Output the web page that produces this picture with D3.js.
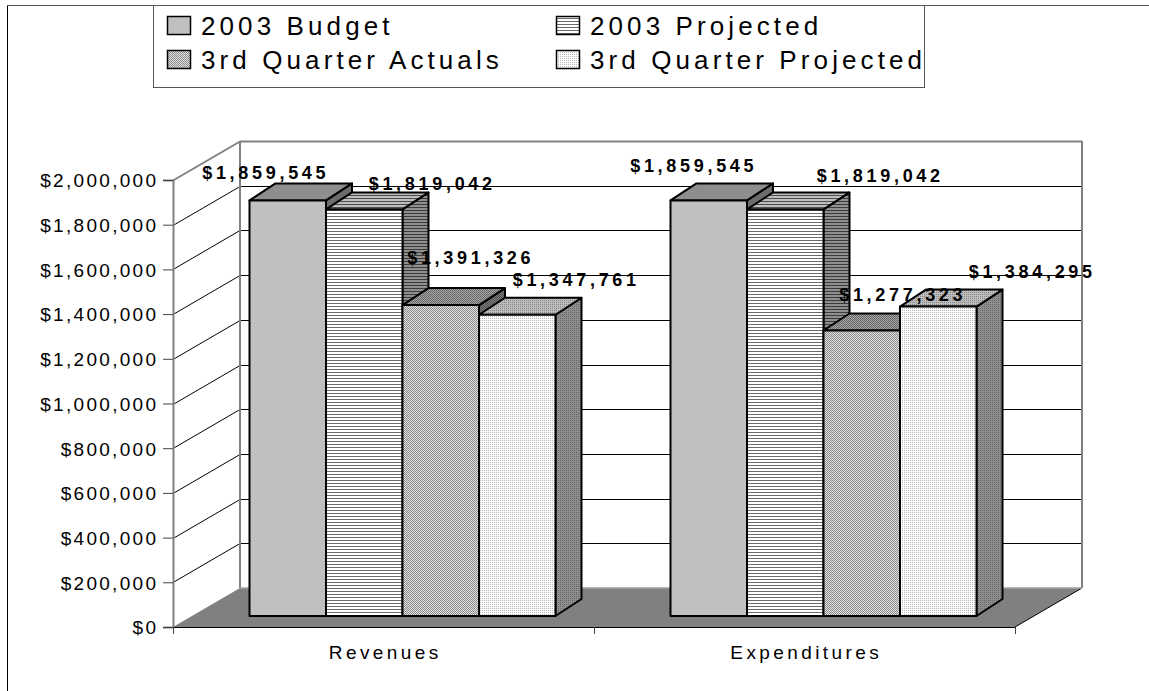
<!DOCTYPE html>
<meta charset="utf-8">
<style>
body { margin: 0; background: #fff; }
text { font-family: "Liberation Sans", Arial, sans-serif; fill: #000; }
.tick text { font-size: 19px; letter-spacing: 2.3px; }
.cat { font-size: 19px; letter-spacing: 3.4px; text-anchor: middle; }
.lbl { font-size: 18px; font-weight: bold; letter-spacing: 3.7px; text-anchor: middle; }
.leg { font-size: 26px; letter-spacing: 4.1px; }
</style>
<body>
<script src="https://d3js.org/d3.v7.min.js"></script>
<script>

// data
var categories = ["Revenues", "Expenditures"];
var series = ["2003 Budget", "2003 Projected", "3rd Quarter Actuals", "3rd Quarter Projected"];
var revenues = [1859545, 1819042, 1391326, 1347761];
var expenditures = [1859545, 1819042, 1277323, 1384295];
var yTicks = [0, 200000, 400000, 600000, 800000, 1000000, 1200000, 1400000, 1600000, 1800000, 2000000];

// label nudges (Excel places the 3d labels a bit loosely)
var nudgeX = [[-24, 66, 28, 57], [-17, 93, 39, 92]];
var nudgeY = [[-28, -26, -48, -35], [-35, -34, -36, -35]];

var values = [revenues, expenditures];

var W = 1149, H = 691;
var svg = d3.select("body").append("svg").attr("width", W).attr("height", H);
var defs = svg.append("defs");

// plot geometry
var plotLeft = 173, plotRight = 1015, plotBase = 627, plotTop = 180;
var wallDX = 67, wallDY = 39;        // depth of the floor / side wall
var barOffX = 19, barOffY = 11;      // bar front sits this far into the floor
var barDX = 26, barDY = 17;          // bar depth

var y = d3.scaleLinear().domain([0, 2000000]).range([plotBase, plotTop]);
var x0 = d3.scaleBand().domain(categories).range([plotLeft, plotRight]);
var groupW = 306;
var x1 = d3.scaleBand().domain(series).range([0, groupW]);

// patterns: kind, fg, bg
var fills = [
  {kind: "solid", fg: "#c0c0c0", bg: "#c0c0c0"},
  {kind: "hlines", fg: "#6a6a6a", bg: "#ffffff"},
  {kind: "dots50", fg: "#8a8a8a", bg: "#e2e2e2"},
  {kind: "dots25", fg: "#b4b4b4", bg: "#ffffff"}
];
var shade = {front: 1, top: 0.74, side: 0.56};

function dark(c, k) {
  var r = d3.rgb(c);
  return d3.rgb(r.r * k, r.g * k, r.b * k).formatHex();
}

function makePattern(i, face) {
  var f = fills[i], k = shade[face];
  var id = "p" + i + face;
  var fg = dark(f.fg, k), bg = dark(f.bg, k);
  var p;
  if (f.kind == "solid") {
    p = defs.append("pattern").attr("id", id).attr("patternUnits", "userSpaceOnUse")
      .attr("width", 2).attr("height", 2);
    p.append("rect").attr("width", 2).attr("height", 2).attr("fill", bg);
  } else if (f.kind == "hlines") {
    p = defs.append("pattern").attr("id", id).attr("patternUnits", "userSpaceOnUse")
      .attr("width", 3).attr("height", 3);
    p.append("rect").attr("width", 3).attr("height", 3).attr("fill", bg);
    p.append("rect").attr("width", 3).attr("height", 1).attr("fill", fg);
  } else if (f.kind == "dots50") {
    p = defs.append("pattern").attr("id", id).attr("patternUnits", "userSpaceOnUse")
      .attr("width", 2).attr("height", 2);
    p.append("rect").attr("width", 2).attr("height", 2).attr("fill", bg);
    p.append("rect").attr("width", 1).attr("height", 1).attr("fill", fg);
    p.append("rect").attr("x", 1).attr("y", 1).attr("width", 1).attr("height", 1).attr("fill", fg);
  } else {
    p = defs.append("pattern").attr("id", id).attr("patternUnits", "userSpaceOnUse")
      .attr("width", 2).attr("height", 2);
    p.append("rect").attr("width", 2).attr("height", 2).attr("fill", bg);
    p.append("rect").attr("width", 1).attr("height", 1).attr("fill", fg);
  }
  return "url(#" + id + ")";
}
var pat = fills.map(function(d, i) {
  return {front: makePattern(i, "front"), top: makePattern(i, "top"), side: makePattern(i, "side")};
});

// outer frame (only left & top are inside the picture)
svg.append("line").attr("x1", 7.5).attr("x2", 7.5).attr("y1", 5).attr("y2", H)
  .attr("stroke", "#000");
svg.append("line").attr("x1", 7).attr("x2", W).attr("y1", 5.5).attr("y2", 5.5)
  .attr("stroke", "#555");

// floor
var floor = [[plotLeft, plotBase], [plotRight, plotBase], [plotRight + wallDX, plotBase - wallDY], [plotLeft + wallDX, plotBase - wallDY]];
svg.append("polygon").attr("points", floor.join(" ")).attr("fill", "#808080");
svg.append("line").attr("x1", plotRight).attr("y1", plotBase).attr("x2", plotRight + wallDX).attr("y2", plotBase - wallDY)
  .attr("stroke", "#000");

// side wall diagonals and back wall gridlines
yTicks.forEach(function(t) {
  var yy = Math.round(y(t)) + 0.5;
  var isTop = t == 2000000;
  if (t > 0) {
    svg.append("line").attr("x1", plotLeft).attr("y1", yy).attr("x2", plotLeft + wallDX).attr("y2", yy - wallDY)
      .attr("stroke", isTop ? "#808080" : "#000").attr("stroke-width", isTop ? 2 : 1);
    svg.append("line").attr("x1", plotLeft + wallDX).attr("y1", yy - wallDY).attr("x2", plotRight + wallDX).attr("y2", yy - wallDY)
      .attr("stroke", isTop ? "#808080" : "#000").attr("stroke-width", isTop ? 2 : 1);
  }
});
// back wall edges
svg.append("line").attr("x1", plotLeft + wallDX).attr("x2", plotLeft + wallDX)
  .attr("y1", y(2000000) - wallDY).attr("y2", plotBase - wallDY).attr("stroke", "#808080").attr("stroke-width", 2);
svg.append("line").attr("x1", plotRight + wallDX).attr("x2", plotRight + wallDX)
  .attr("y1", y(2000000) - wallDY).attr("y2", plotBase - wallDY).attr("stroke", "#808080").attr("stroke-width", 2);
svg.append("line").attr("x1", plotLeft + wallDX).attr("x2", plotRight + wallDX)
  .attr("y1", plotBase - wallDY).attr("y2", plotBase - wallDY).attr("stroke", "#a0a0a0").attr("stroke-width", 1.5);

// y axis
var yAxis = svg.append("g").attr("transform", "translate(" + plotLeft + ",0)")
  .call(d3.axisLeft(y).tickValues(yTicks).tickFormat(d3.format("$,")).tickSize(10).tickPadding(4.7));
yAxis.select(".domain").attr("stroke", "#808080").attr("stroke-width", 2);
yAxis.selectAll(".tick line").attr("stroke", "#444");
yAxis.selectAll(".tick text").attr("font-family", null).attr("font-size", null).attr("dy", "0.36em");

// category axis
svg.append("line").attr("x1", plotLeft).attr("x2", plotRight).attr("y1", plotBase + 0.5).attr("y2", plotBase + 0.5)
  .attr("stroke", "#000");
var edges = categories.map(function(c) { return x0(c); }).concat([x0(categories[categories.length - 1]) + x0.bandwidth()]);
svg.selectAll(".ctick").data(edges).enter().append("line")
  .attr("x1", function(d) { return Math.round(d) + 0.5; })
  .attr("x2", function(d) { return Math.round(d) + 0.5; })
  .attr("y1", plotBase).attr("y2", plotBase + 7).attr("stroke", "#444");
svg.selectAll(".cat").data(categories).enter().append("text")
  .attr("class", "cat")
  .attr("x", function(d) { return x0(d) + x0.bandwidth() / 2 + 1.7; })
  .attr("y", 659)
  .text(function(d) { return d; });

// bars, drawn left to right so each front hides the neighbour's side
categories.forEach(function(c, ci) {
  var gx = x0(c) + (x0.bandwidth() - groupW) / 2 + barOffX;
  series.forEach(function(s, si) {
    var v = values[ci][si];
    var xl = gx + x1(s), xr = xl + x1.bandwidth();
    var yb = y(0) - barOffY, yt = y(v) - barOffY;
    var g = svg.append("g").attr("stroke", "#000").attr("stroke-width", 2).attr("stroke-linejoin", "round");
    g.append("polygon").attr("fill", pat[si].side)
      .attr("points", [[xr, yt], [xr + barDX, yt - barDY], [xr + barDX, yb - barDY], [xr, yb]].join(" "));
    g.append("polygon").attr("fill", pat[si].top)
      .attr("points", [[xl, yt], [xl + barDX, yt - barDY], [xr + barDX, yt - barDY], [xr, yt]].join(" "));
    g.append("rect").attr("fill", pat[si].front)
      .attr("x", xl).attr("y", yt).attr("width", xr - xl).attr("height", yb - yt);
  });
});

// value labels
categories.forEach(function(c, ci) {
  var gx = x0(c) + (x0.bandwidth() - groupW) / 2 + barOffX;
  series.forEach(function(s, si) {
    var v = values[ci][si];
    svg.append("text").attr("class", "lbl")
      .attr("x", gx + x1(s) + x1.bandwidth() / 2 + nudgeX[ci][si] + 2)
      .attr("y", y(v) - barOffY + nudgeY[ci][si] + 6.5)
      .text(d3.format("$,")(v));
  });
});

// legend
var leg = svg.append("g");
leg.append("rect").attr("x", 153.5).attr("y", 5.5).attr("width", 771).attr("height", 82)
  .attr("fill", "#fff").attr("stroke", "#555");
var legX = [167, 556], legY = [35, 69];
series.forEach(function(s, i) {
  var cx = legX[i % 2], by = legY[Math.floor(i / 2)];
  leg.append("rect").attr("x", cx + 0.5).attr("y", by - 18.5).attr("width", 23).attr("height", 18)
    .attr("fill", pat[i].front).attr("stroke", "#000").attr("stroke-width", 1.5);
  leg.append("text").attr("class", "leg").attr("x", cx + 34).attr("y", by).text(s);
});

</script>
</body>
